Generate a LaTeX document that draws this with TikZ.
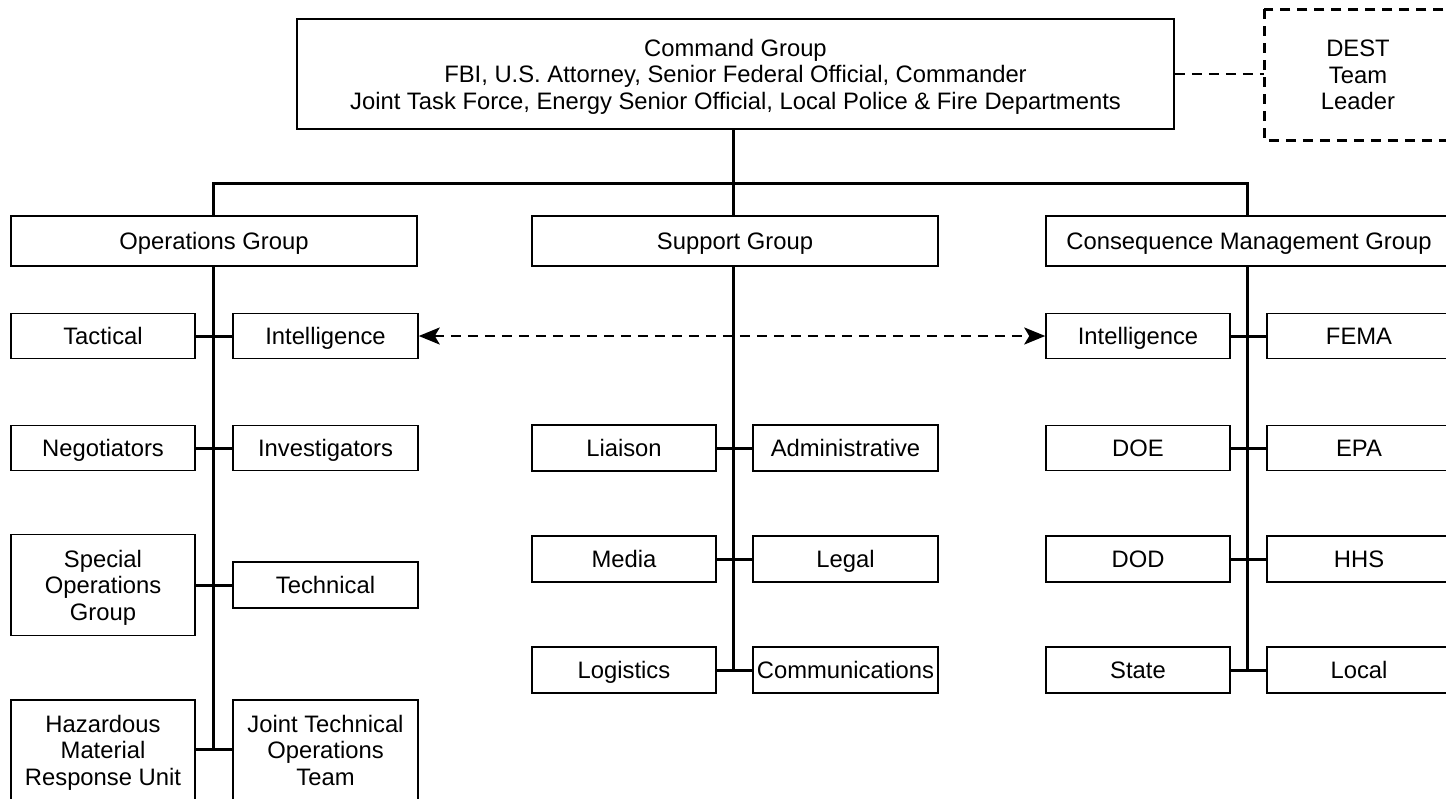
\documentclass[tikz,border=0pt]{standalone}
\usepackage{fontspec}
\setmainfont{Liberation Sans}
\usetikzlibrary{arrows.meta}
\begin{document}
\begin{tikzpicture}[x=1pt,y=-1pt,
  box/.style={draw, line width=1.5pt, inner sep=0pt, align=center, text depth=0pt,
    font=\fontsize{23.8}{26.5}\selectfont},
  one/.style={text height=17pt},
  conn/.style={line width=3pt},
  dline/.style={line width=2.6pt, dash pattern=on 10pt off 7pt},
]
\clip (0,0) rectangle (1446,798);
\useasboundingbox (0,0) rectangle (1446,798);
\fill[white] (0,0) rectangle (1446,798);

% top level
\node[box, minimum width=877pt, minimum height=110pt] (cmd) at (735.5,74)
  {Command Group\\FBI, U.S. Attorney, Senior Federal Official, Commander\\Joint Task Force, Energy Senior Official, Local Police \& Fire Departments};
\node[box, draw=none, minimum width=186pt, minimum height=130pt] (dest) at (1358,75)
  {DEST\\Team\\Leader};
\draw[dline] (dest.north west) rectangle (dest.south east);
\draw[dline] (cmd.east) -- (cmd.east -| dest.west);

% groups
\node[box, one, minimum width=406pt, minimum height=50pt] (ops) at (214,241) {Operations Group};
\node[box, one, minimum width=406pt, minimum height=50pt] (sup) at (735,241) {Support Group};
\node[box, one, minimum width=406pt, minimum height=50pt] (cons) at (1249,241) {Consequence Management Group};

\coordinate (opsTop) at (213,183);
\coordinate (supTop) at (733,183);
\coordinate (consTop) at (1247,183);
\draw[conn] (cmd.south -| supTop) -- (supTop);
\draw[conn, line cap=rect] (opsTop) -- (consTop);
\draw[conn] (opsTop) -- (opsTop |- ops.north);
\draw[conn] (supTop) -- (supTop |- sup.north);
\draw[conn] (consTop) -- (consTop |- cons.north);

% operations column
\node[box, one, minimum width=184pt, minimum height=45pt] (tac) at (103,336) {Tactical};
\node[box, one, minimum width=185pt, minimum height=45pt] (oint) at (325.5,336) {Intelligence};
\node[box, one, minimum width=184pt, minimum height=45pt] (neg) at (103,448) {Negotiators};
\node[box, one, minimum width=185pt, minimum height=45pt] (inv) at (325.5,448) {Investigators};
\node[box, minimum width=184pt, minimum height=101pt] (sog) at (103,585) {Special\\Operations\\Group};
\node[box, one, minimum width=185pt, minimum height=46pt] (tech) at (325.5,585) {Technical};
\node[box, minimum width=184pt, minimum height=100pt] (haz) at (103,750) {Hazardous\\Material\\Response Unit};
\node[box, minimum width=185pt, minimum height=100pt] (jtot) at (325.5,750) {Joint Technical\\Operations\\Team};
\coordinate (opsEnd) at (213,749);
\draw[conn] (ops.south -| opsEnd) -- (opsEnd);
\draw[conn] (tac.east) -- (oint.west);
\draw[conn] (neg.east) -- (inv.west);
\draw[conn] (sog.east) -- (tech.west);
\draw[conn] (haz.east |- opsEnd) -- (jtot.west |- opsEnd);

% support column
\node[box, one, minimum width=184pt, minimum height=46pt] (lia) at (624,448) {Liaison};
\node[box, one, minimum width=185pt, minimum height=46pt] (adm) at (845.5,448) {Administrative};
\node[box, one, minimum width=184pt, minimum height=46pt] (med) at (624,559) {Media};
\node[box, one, minimum width=185pt, minimum height=46pt] (leg) at (845.5,559) {Legal};
\node[box, one, minimum width=184pt, minimum height=46pt] (log) at (624,670) {Logistics};
\node[box, one, minimum width=185pt, minimum height=46pt] (com) at (845.5,670) {Communications};
\coordinate (supEnd) at (733,670);
\draw[conn] (sup.south -| supEnd) -- (supEnd);
\draw[conn] (lia.east) -- (adm.west);
\draw[conn] (med.east) -- (leg.west);
\draw[conn] (log.east) -- (com.west);

% consequence column
\node[box, one, minimum width=184pt, minimum height=45pt] (cint) at (1138,336) {Intelligence};
\node[box, one, minimum width=184pt, minimum height=45pt] (fema) at (1359,336) {FEMA};
\node[box, one, minimum width=184pt, minimum height=45pt] (doe) at (1138,448) {DOE};
\node[box, one, minimum width=184pt, minimum height=45pt] (epa) at (1359,448) {EPA};
\node[box, one, minimum width=184pt, minimum height=46pt] (dod) at (1138,559) {DOD};
\node[box, one, minimum width=184pt, minimum height=46pt] (hhs) at (1359,559) {HHS};
\node[box, one, minimum width=184pt, minimum height=46pt] (state) at (1138,670) {State};
\node[box, one, minimum width=184pt, minimum height=46pt] (loc) at (1359,670) {Local};
\coordinate (consEnd) at (1247,670);
\draw[conn] (cons.south -| consEnd) -- (consEnd);
\draw[conn] (cint.east) -- (fema.west);
\draw[conn] (doe.east) -- (epa.west);
\draw[conn] (dod.east) -- (hhs.west);
\draw[conn] (state.east) -- (loc.west);

% intelligence link
\draw[dline, {Stealth[length=21pt,width=17pt,inset=5pt]}-{Stealth[length=21pt,width=17pt,inset=5pt]}] (oint.east) -- (cint.west);
\end{tikzpicture}
\end{document}
